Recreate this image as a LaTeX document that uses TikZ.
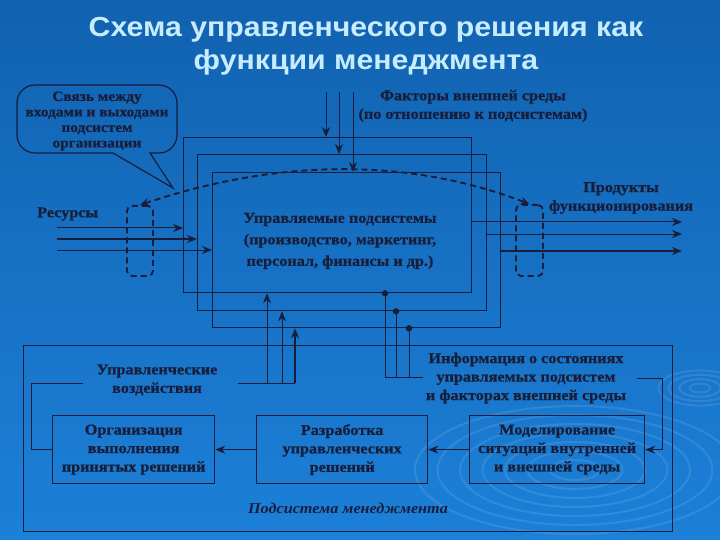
\documentclass[tikz,border=0pt]{standalone}
\usepackage{fontspec}
\setmainfont{Liberation Serif}
\newfontfamily\titlefont[FakeStretch=1.1]{Liberation Sans}
\newfontfamily\dfont[FakeStretch=1.08,BoldFeatures={FakeBold=0.8}]{Liberation Serif}
\usetikzlibrary{arrows.meta,calc}
\definecolor{ink}{RGB}{24,30,58}
\definecolor{bgtop}{RGB}{17,98,176}
\definecolor{bgbot}{RGB}{28,128,216}
\definecolor{titlec}{RGB}{200,236,255}
\begin{document}
\begin{tikzpicture}[x=1pt,y=-1pt,
  ln/.style={draw=ink,line width=1pt},
  thk/.style={draw=ink,line width=1.9pt},
  arr/.style={-{Stealth[length=10pt,width=8pt]}},
  bx/.style={draw=ink,line width=1.3pt,inner sep=0pt,anchor=north west},
  lbl/.style={text=ink,font=\dfont\bfseries\fontsize{15}{18.5}\selectfont,align=center,inner sep=1pt},
  loop/.style={draw=ink,line width=1.9pt,dash pattern=on 6pt off 4pt,rounded corners=5pt,inner sep=0pt,anchor=north west},
  ripple/.style={draw=white,draw opacity=0.1,line width=2pt}
]
\useasboundingbox (0,0) rectangle (720,540);
\shade[top color=bgtop,bottom color=bgbot] (0,0) rectangle (720,540);
% ripples
\foreach \r in {20,38,56,74,92,110,128}{\draw[ripple] (575,470) ellipse ({\r*1.25} and {\r*0.5});}
\foreach \r in {8,16,24,32}{\draw[ripple] (700,388) ellipse ({\r*1.3} and {\r*0.55});}

% title
\node[text=titlec,font=\titlefont\bfseries\fontsize{27.5}{33}\selectfont,align=center] (title) at (366,46)
  {Схема управленческого решения как\\функции менеджмента};

% callout
\draw[ln,line width=1.2pt] (113,153) [rounded corners=18pt] -- (17,153) -- (17,85) -- (177,85) -- (177,153) [sharp corners] -- (150,153) -- (173,188) -- cycle;
\node[lbl,font=\dfont\bfseries\fontsize{14.2}{15.5}\selectfont] (callout) at (97,121)
  {Связь между\\входами и выходами\\подсистем\\организации};

% nested rectangles
\node[bx,minimum width=288pt,minimum height=155pt] (rA) at (183,137) {};
\node[bx,minimum width=289pt,minimum height=156pt] (rB) at (197,154) {};
\node[bx,minimum width=288pt,minimum height=155pt] (rC) at (212,172) {};
\node[lbl,font=\dfont\bfseries\fontsize{15}{21.5}\selectfont] (ctext) at (340,241)
  {Управляемые подсистемы\\(производство, маркетинг,\\персонал, финансы и др.)};

% external factors
\node[lbl] (fact) at (473,106) {Факторы внешней среды\\(по отношению к подсистемам)};
\coordinate (t1) at (326,92);
\coordinate (t2) at (339,92);
\coordinate (t3) at (353,92);
\draw[ln,arr] (t1) -- (t1 |- rA.north);
\draw[ln,arr] (t2) -- (t2 |- rB.north);
\draw[ln,arr] (t3) -- (t3 |- rC.north);

% resources
\node[lbl,anchor=west] (res) at (36,214) {Ресурсы};
\coordinate (r1) at (57,228);
\coordinate (r2) at (57,239);
\coordinate (r3) at (57,250);
\draw[ln,arr] (r1) -- (r1 -| rA.west);
\draw[thk,arr] (r2) -- (r2 -| rB.west);
\draw[ln,arr] (r3) -- (r3 -| rC.west);

% products
\node[lbl] (prod) at (621,198) {Продукты\\функционирования};
\coordinate (p1) at (682,222);
\coordinate (p2) at (682,234);
\coordinate (p3) at (682,251);
\draw[ln,arr] (p1 -| rA.east) -- (p1);
\draw[ln,arr] (p2 -| rB.east) -- (p2);
\draw[thk,arr] (p3 -| rC.east) -- (p3);

% dashed loops and arc
\node[loop,minimum width=26pt,minimum height=70pt] (loopL) at (126,205) {};
\node[loop,minimum width=27pt,minimum height=71pt] (loopR) at (515,204) {};
\draw[draw=ink,line width=1.9pt,dash pattern=on 6pt off 4pt,{Stealth[length=9pt,width=8pt]}-{Stealth[length=9pt,width=8pt]}]
  (loopL.north) .. controls (283,157) and (412,159) .. (loopR.north);

% management subsystem
\node[bx,minimum width=649pt,minimum height=186pt] (mgmt) at (23,345) {};
\node[lbl,font=\dfont\bfseries\itshape\fontsize{15}{18}\selectfont] (mlabel) at (348,508) {Подсистема менеджмента};

\node[bx,minimum width=162pt,minimum height=68pt] (org) at (52,415) {};
\node[lbl] at (org.center) {Организация\\выполнения\\принятых решений};
\node[bx,minimum width=171pt,minimum height=68pt] (razr) at (256,415) {};
\node[lbl] at (razr.center) {Разработка\\управленческих\\решений};
\node[bx,minimum width=175pt,minimum height=68pt] (mod) at (469,415) {};
\node[lbl] at (mod.center) {Моделирование\\ситуаций внутренней\\и внешней среды};
\draw[ln,arr] (mod.west) -- (razr.east);
\draw[ln,arr] (razr.west) -- (org.east);

% control actions
\node[lbl] (upr) at (157,380) {Управленческие\\воздействия};
\coordinate (ua) at (83,383);
\coordinate (cL) at (31,383);
\coordinate (ub) at (238,383);
\coordinate (u1) at (267,383);
\coordinate (u2) at (282,383);
\coordinate (u3) at (295,383);
\draw[ln] (org.west) -| (cL) -- (ua);
\draw[ln] (ub) -- (u3);
\draw[ln,arr] (u1) -- (u1 |- rA.south);
\draw[ln,arr] (u2) -- (u2 |- rB.south);
\draw[thk,arr] (u3) -- (u3 |- rC.south);

% information
\node[lbl] (info) at (526,378) {Информация о состояниях\\управляемых подсистем\\и факторах внешней среды};
\coordinate (i1) at (385,377);
\coordinate (i2) at (396,377);
\coordinate (i3) at (409,377);
\coordinate (iend) at (423,377);
\draw[ln] (i1 |- rA.south) -- (i1) -- (iend);
\draw[ln] (i2 |- rB.south) -- (i2);
\draw[ln] (i3 |- rC.south) -- (i3);
\fill[ink] (i1 |- rA.south) circle (3.2pt);
\fill[ink] (i2 |- rB.south) circle (3.2pt);
\fill[ink] (i3 |- rC.south) circle (3.2pt);
\coordinate (ir1) at (637,378);
\coordinate (ir2) at (662,378);
\draw[ln,arr] (ir1) -- (ir2) |- (mod.east);
\end{tikzpicture}
\end{document}
